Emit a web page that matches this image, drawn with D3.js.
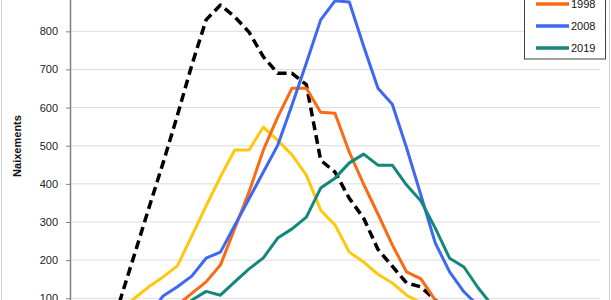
<!DOCTYPE html>
<html lang="ca">
<head>
<meta charset="UTF-8">
<title>Naixements per edat de la mare</title>
<style>
  body { margin: 0; background: #fff; }
  svg { display: block; }
  text { font-family: "Liberation Sans", Arial, sans-serif; }
</style>
</head>
<body>
<svg width="611" height="300"></svg>
<script src="https://d3js.org/d3.v7.min.js"></script>
<script>
// edat de la mare (eix X, retallat a la imatge)
const ages = ["<15"].concat(d3.range(15, 50).map(String)).concat(["50+"]);

const years = ["1976", "1988", "1998", "2008", "2019"];

const births1976 = [2, 10, 40, 95, 215, 336, 455, 580, 711, 830, 869, 838, 798, 733, 690, 690, 660, 462, 431, 362, 310, 228, 184, 140, 130, 95, 70, 48, 30, 18, 10, 5, 3, 2, 1, 0, 0];
const births1988 = [1, 8, 40, 68, 100, 130, 156, 185, 263, 342, 418, 489, 489, 549, 514, 476, 423, 331, 292, 221, 195, 163, 140, 108, 88, 62, 45, 30, 18, 10, 6, 3, 2, 1, 0, 0, 0];
const births1998 = [0, 1, 3, 8, 18, 35, 58, 82, 113, 143, 187, 283, 379, 489, 575, 651, 651, 588, 585, 483, 399, 321, 240, 169, 151, 95, 70, 45, 28, 15, 8, 4, 2, 1, 0, 0, 0];
const births2008 = [0, 0, 1, 5, 20, 55, 106, 130, 158, 205, 221, 291, 361, 431, 501, 607, 717, 830, 880, 877, 761, 651, 609, 494, 370, 245, 169, 117, 80, 50, 30, 18, 10, 5, 2, 1, 0];
const births2019 = [0, 0, 0, 2, 5, 12, 28, 60, 95, 118, 108, 143, 177, 206, 258, 282, 313, 389, 415, 455, 478, 449, 449, 397, 355, 284, 205, 182, 127, 80, 50, 30, 17, 9, 4, 2, 1];

const yTicks = [0, 100, 200, 300, 400, 500, 600, 700, 800, 900];

const series = [
  { name: years[0], values: births1976, color: "#000000", dash: "9,5", width: 3.5 },
  { name: years[1], values: births1988, color: "#FFC80F", dash: null, width: 3 },
  { name: years[2], values: births1998, color: "#FA6A14", dash: null, width: 3 },
  { name: years[3], values: births2008, color: "#3F68F0", dash: null, width: 3 },
  { name: years[4], values: births2019, color: "#14877B", dash: null, width: 3 }
];

const svg = d3.select("svg");

// marc exterior del gràfic
svg.append("rect")
  .attr("x", 1.5).attr("y", -60)
  .attr("width", 608).attr("height", 420)
  .attr("fill", "none")
  .attr("stroke", "#d0d0d0");

const plotLeft = 70, plotRight = 600;
const x = d3.scalePoint().domain(ages).range([plotLeft, plotRight]).padding(0.5);
const y = d3.scaleLinear().domain([0, 900]).range([336.4, -6.8]);

// línies de graella
svg.append("g")
  .selectAll("line")
  .data(yTicks.slice(1))
  .join("line")
  .attr("x1", plotLeft).attr("x2", plotRight)
  .attr("y1", d => y(d)).attr("y2", d => y(d))
  .attr("stroke", "#dcdcdc")
  .attr("stroke-width", 1);

// eix Y
const yAxis = svg.append("g")
  .attr("transform", `translate(${plotLeft},0)`)
  .call(d3.axisLeft(y).tickValues(yTicks).tickSize(4).tickPadding(8));
yAxis.select(".domain").attr("stroke", "#7f7f7f").attr("stroke-width", 1.5);
yAxis.selectAll(".tick line").attr("stroke", "#7f7f7f");
yAxis.selectAll(".tick text")
  .attr("font-size", 11)
  .attr("fill", "#222")
  .style("font-family", "'Liberation Sans', Arial, sans-serif");

// eix X (queda fora de la imatge)
const xAxis = svg.append("g")
  .attr("transform", `translate(0,${y(0)})`)
  .call(d3.axisBottom(x).tickSize(4));
xAxis.select(".domain").attr("stroke", "#7f7f7f");

svg.append("text")
  .attr("transform", "translate(21,146) rotate(-90)")
  .attr("text-anchor", "middle")
  .attr("font-size", 11)
  .attr("font-weight", "bold")
  .attr("fill", "#111")
  .text("Naixements");

// sèries
const line = d3.line()
  .x((d, i) => x(ages[i]))
  .y(d => y(d));

svg.append("g")
  .selectAll("path")
  .data(series)
  .join("path")
  .attr("d", d => line(d.values))
  .attr("fill", "none")
  .attr("stroke", d => d.color)
  .attr("stroke-width", d => d.width)
  .attr("stroke-dasharray", d => d.dash)
  .attr("stroke-linejoin", "round");

// llegenda
const legendStep = 22, legendLast = 48;
const legendY = (i) => legendLast - (series.length - 1 - i) * legendStep;

const legend = svg.append("g");
legend.append("rect")
  .attr("x", 524.5).attr("y", legendY(0) - 12)
  .attr("width", 81).attr("height", legendLast + 11 - (legendY(0) - 12))
  .attr("fill", "#fff")
  .attr("stroke", "#404040");

const item = legend.selectAll("g")
  .data(series)
  .join("g")
  .attr("transform", (d, i) => `translate(0,${legendY(i)})`);
item.append("line")
  .attr("x1", 536).attr("x2", 569)
  .attr("stroke", d => d.color)
  .attr("stroke-width", d => d.width + 0.5)
  .attr("stroke-dasharray", d => d.dash);
item.append("text")
  .attr("x", 571)
  .attr("y", 4)
  .attr("font-size", 11)
  .attr("fill", "#111")
  .text(d => d.name);
</script>
</body>
</html>
